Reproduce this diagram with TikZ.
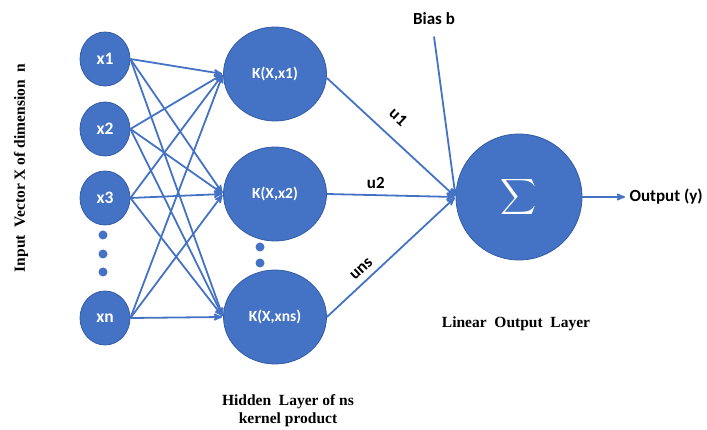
\documentclass[tikz,border=0pt]{standalone}
\usepackage{amsmath}
\usepackage{graphicx}
\usepackage{fontspec}
\setmainfont{Liberation Serif}
\newfontfamily\calibri{Carlito}
\usetikzlibrary{shapes,arrows,positioning,calc}
\definecolor{netblue}{RGB}{68,114,196}
\definecolor{netrim}{RGB}{52,92,165}

\begin{document}
\begin{tikzpicture}[x=1pt,y=-1pt,>=stealth',
  link/.style={->,draw=netblue,line width=1.8pt,shorten >=1pt},
  input node/.style={ellipse,fill=netblue,draw=netrim,line width=0.8pt,
    minimum width=50pt,minimum height=54pt,inner sep=0pt,text=white,
    font=\calibri\bfseries\fontsize{17.5}{19}\selectfont},
  kernel node/.style={input node,minimum width=103pt,minimum height=94pt,
    font=\calibri\bfseries\fontsize{15.5}{17}\selectfont},
  sum node/.style={circle,fill=netblue,draw=netrim,line width=0.8pt,
    minimum size=126pt,inner sep=0pt,text=white},
  weight/.style={font=\calibri\bfseries\fontsize{17}{19}\selectfont,text=black},
  caption/.style={font=\bfseries\fontsize{15.5}{18}\selectfont,text=black}]

  \useasboundingbox (0,0) rectangle (707,430);

  % input layer
  \node[input node] (x1) at (105,59) {x1};
  \node[input node] (x2) at (105,129) {x2};
  \node[input node] (x3) at (105,198) {x3};
  \node[input node] (xn) at (105,318) {xn};
  \foreach \y in {235,254,272}
    \fill[netblue] (103,\y) circle (4.5pt);

  % hidden layer
  \node[kernel node] (k1) at (275,74) {K(X,x1)};
  \node[kernel node] (k2) at (275,194) {K(X,x2)};
  \node[kernel node] (k3) at (275,317) {K(X,xns)};
  \foreach \y in {247,263}
    \fill[netblue] (260,\y) circle (4.5pt);

  % output neuron
  \node[sum node] (sum) at (519,197) {\scalebox{2.5}{$\displaystyle\sum$}};
  \node[weight] (bias) at (434,19) {Bias b};
  \node[weight,anchor=west] (out) at (626,197) {Output (y)};

  % fully connected inputs
  \foreach \i in {x1,x2,x3,xn}
    \foreach \k in {k1,k2,k3}
      \draw[link] (\i.east) -- (\k.west);

  \draw[link] ([yshift=-4pt]k1.east) -- node[weight,sloped,above=10pt,pos=0.45] {u1} (sum.west);
  \draw[link] (k2.east) -- node[weight,above=2pt,pos=0.38] {u2} (sum.west);
  \draw[link] (k3.east) -- node[weight,sloped,above=3pt,pos=0.33] {uns} (sum.west);
  \draw[link] ([yshift=-8pt]bias.south) -- (sum.west);
  \draw[link] (sum.east) -- (out.west);

  % layer captions
  \node[caption,rotate=90] (inlabel) at (21,168) {Input\ \ Vector X of dimension\ \ n};
  \node[caption,align=center] (hidlabel) at (288,411) {Hidden\ \ Layer of ns\\ kernel product};
  \node[caption] (outlabel) at (516,324) {Linear\ \ Output\ \ Layer};
\end{tikzpicture}
\end{document}
